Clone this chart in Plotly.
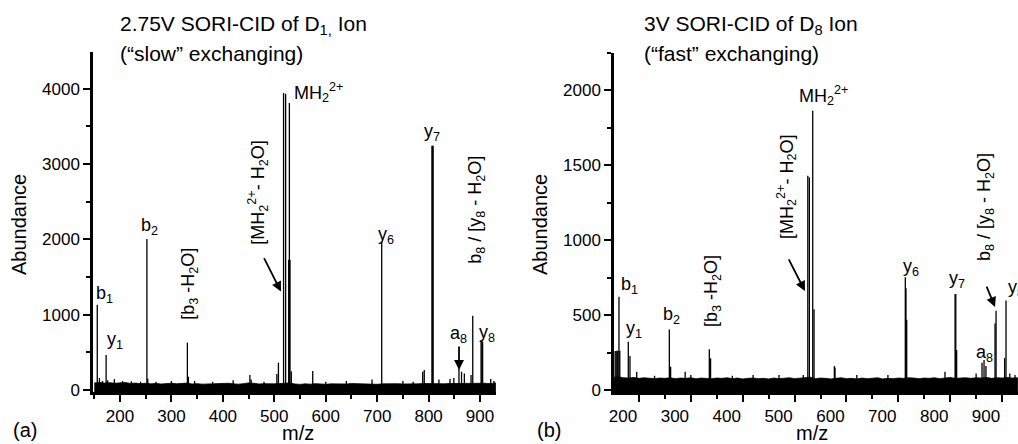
import plotly.graph_objects as go

W, H = 1018, 444
FONT = "Liberation Sans, Arial, Helvetica, sans-serif"

# ---------------- data: panel (a) D1 ion, 2.75 V ----------------
a_mz = [155.8, 160, 166, 173, 176, 189, 205, 222, 240, 252.3, 254, 270, 300,
        331, 333, 345, 380, 420, 452.5, 455, 480, 505, 508, 518, 522, 528,
        529.3, 530.5, 533, 574.7, 600, 640, 690, 708.8, 750, 770, 788.5,
        791.5, 806.5, 807.6, 808.7, 820, 841.5, 849, 859, 864, 869.5, 882.5,
        885.8, 902, 903.5, 905, 920.7, 927]
a_ab = [1130, 160, 120, 465, 130, 146, 120, 115, 110, 2003, 150, 110, 120,
        630, 177, 120, 110, 130, 200, 140, 110, 212, 363, 3940, 3930, 1727,
        3810, 1727, 250, 252, 110, 120, 140, 1965, 120, 110, 244,
        266, 3240, 3240, 3240, 140, 146, 160, 290, 244, 220, 200,
        985, 664, 664, 640, 146, 120]
noise_mz = list(range(150, 931, 10))
a_noise = [95, 100, 92, 98, 90, 95, 100, 88, 92,
           85, 90, 82, 88, 80, 85, 90, 84, 86, 92,
           80, 85, 78, 82, 86, 80, 84, 90, 82, 78,
           85, 95, 90, 80, 84, 78, 82, 86, 90, 95,
           80, 75, 82, 78, 85, 80, 76, 82, 78, 84,
           80, 86, 82, 78, 84, 80, 76, 82, 86, 80,
           84, 80, 78, 85, 82, 88, 84, 80, 85, 82,
           86, 88, 84, 90, 86, 92, 88, 90, 85, 95]

# ---------------- data: panel (b) D8 ion, 3 V ----------------
b_mz = [154, 156, 158, 159.5, 161.4, 163, 179.4, 182.6, 195.6, 230, 258.5,
        261, 289, 300, 335.6, 338, 380, 420, 470, 516.7, 525.5, 528.5, 535,
        537.5, 576.7, 578, 620, 680, 713.5, 714.8, 716.2, 790, 809.5, 810.8,
        812.5, 850, 861.4, 865.3, 869, 886.5, 888.5, 905, 907.7, 915, 925]
b_ab = [260, 260, 262, 262, 623, 262, 323, 227, 122, 95, 405,
        156, 122, 100, 272, 212, 95, 100, 100, 100, 1430, 1420, 1864,
        539, 160, 150, 100, 100, 753, 680, 470, 122, 641, 641,
        267, 110, 182, 200, 160, 445, 530, 213, 597, 110, 100]
b_noise = [85, 88, 82, 80, 84, 78, 82, 80, 76,
           80, 78, 82, 76, 80, 78, 82, 75, 80, 78,
           76, 80, 78, 82, 76, 80, 74, 78, 80, 76,
           78, 74, 80, 76, 78, 82, 76, 80, 84, 86,
           76, 80, 78, 74, 78, 82, 76, 78, 74, 80,
           76, 78, 82, 74, 78, 76, 80, 78, 82, 80,
           76, 80, 78, 82, 76, 80, 84, 78, 80, 82,
           78, 82, 80, 84, 78, 82, 80, 84, 80, 82]

x_ticks = [200, 300, 400, 500, 600, 700, 800, 900]

# ---------------- layout geometry ----------------
a_xrange = [147.5, 931]
a_yrange = [-26, 4485]
b_xrange = [151.8, 930.8]
b_yrange = [-13, 2250]
y_dom = [1 - 392 / H, 1 - 52 / H]
y_dom_b = [1 - 392 / H, 1 - 53 / H]


def stick_xy(mz, ab):
    xs, ys = [], []
    for m, a in zip(mz, ab):
        xs += [m, m, None]
        ys += [0, a, None]
    return xs, ys


def band_xy(mz, vals, floor):
    xs = list(mz) + list(reversed(mz))
    ys = list(vals) + [floor] * len(mz)
    return xs, ys


fig = go.Figure()

for mz, ab, noise, yr, xa, ya in [
    (a_mz, a_ab, a_noise, a_yrange, "x", "y"),
    (b_mz, b_ab, b_noise, b_yrange, "x2", "y2"),
]:
    bx, by = band_xy(noise_mz, noise, yr[0])
    fig.add_trace(go.Scatter(x=bx, y=by, mode="lines", fill="toself",
                             fillcolor="black", line=dict(color="black", width=0.8),
                             xaxis=xa, yaxis=ya, hoverinfo="skip", showlegend=False))
    sx, sy = stick_xy(mz, ab)
    fig.add_trace(go.Scatter(x=sx, y=sy, mode="lines",
                             line=dict(color="black", width=1.3),
                             xaxis=xa, yaxis=ya, showlegend=False))

common_x = dict(showline=True, linewidth=2.5, linecolor="black", showgrid=False,
                zeroline=False, ticks="outside", ticklen=7, tickwidth=2,
                tickcolor="black", tickvals=x_ticks, automargin=False,
                tickfont=dict(family=FONT, size=17, color="black"),
                minor=dict(ticks="outside", ticklen=4, tickwidth=1.5,
                           tickcolor="black", dtick=50, tick0=0, showgrid=False))
common_y = dict(showline=True, linewidth=2.5, linecolor="black", showgrid=False,
                zeroline=False, ticks="outside", ticklen=7, tickwidth=2,
                tickcolor="black", automargin=False,
                tickfont=dict(family=FONT, size=17, color="black"))

fig.update_layout(
    template="none",
    width=W, height=H, autosize=False,
    margin=dict(l=0, r=0, t=0, b=0),
    paper_bgcolor="white", plot_bgcolor="white",
    font=dict(family=FONT, color="black"),
    xaxis=dict(domain=[93 / W, 496 / W], range=a_xrange, anchor="y", **common_x),
    yaxis=dict(domain=y_dom, range=a_yrange, anchor="x", tickvals=[0, 1000, 2000, 3000, 4000],
               minor=dict(ticks="outside", ticklen=4, tickwidth=1.5, tickcolor="black",
                          dtick=500, tick0=0, showgrid=False), **common_y),
    xaxis2=dict(domain=[614 / W, 1.0], range=b_xrange, anchor="y2", ticklabelshift=-16, **common_x),
    yaxis2=dict(domain=y_dom_b, range=b_yrange, anchor="x2", tickvals=[0, 500, 1000, 1500, 2000],
                minor=dict(ticks="outside", ticklen=4, tickwidth=1.5, tickcolor="black",
                           dtick=250, tick0=0, showgrid=False), **common_y),
)

LF = dict(family=FONT, size=18, color="black")
ann = []


def lab(text, x, y, xr, yr, angle=0, xanchor="center"):
    ann.append(dict(text=text, x=x, y=y, xref=xr, yref=yr, showarrow=False,
                    textangle=angle, xanchor=xanchor, yanchor="middle", font=LF))


def arrow(x0, y0, x1, y1, xr, yr):
    ann.append(dict(text="", x=x1, y=y1, ax=x0, ay=y0, xref=xr, yref=yr,
                    axref=xr, ayref=yr, showarrow=True, arrowhead=2, arrowsize=1.1,
                    arrowwidth=1.8, arrowcolor="black"))


# panel (a) labels
lab("b<sub>1</sub>", 169.9, 1262, "x", "y")
lab("y<sub>1</sub>", 191.2, 651, "x", "y")
lab("b<sub>2</sub>", 257.4, 2166, "x", "y")
lab("[b<sub>3</sub> -H<sub>2</sub>O]", 336.1, 1409, "x", "y", -90)
lab("[MH<sub>2</sub><sup>2+</sup>- H<sub>2</sub>O]", 468.3, 2618, "x", "y", -90)
lab("MH<sub>2</sub><sup>2+</sup>", 534.4, 3947, "x", "y", xanchor="left")
lab("y<sub>6</sub>", 716.2, 2046, "x", "y")
lab("y<sub>7</sub>", 805.7, 3415, "x", "y")
lab("b<sub>8</sub> / [y<sub>8</sub> - H<sub>2</sub>O]", 894.2, 2392, "x", "y", -90)
lab("a<sub>8</sub>", 857.2, 731, "x", "y")
lab("y<sub>8</sub>", 913.6, 744, "x", "y")
arrow(478.6, 1771, 513, 1306, "x", "y")
arrow(859.1, 598, 859.1, 266, "x", "y")

# panel (b) labels
lab("b<sub>1</sub>", 182.6, 695, "x2", "y2")
lab("y<sub>1</sub>", 191.3, 401, "x2", "y2")
lab("b<sub>2</sub>", 262.7, 501, "x2", "y2")
lab("[b<sub>3</sub> -H<sub>2</sub>O]", 340.8, 661, "x2", "y2", -90)
lab("[MH<sub>2</sub><sup>2+</sup>- H<sub>2</sub>O]", 485.4, 1356, "x2", "y2", -90)
lab("MH<sub>2</sub><sup>2+</sup>", 504.7, 1964, "x2", "y2", xanchor="left")
lab("y<sub>6</sub>", 724.5, 815, "x2", "y2")
lab("y<sub>7</sub>", 813.2, 735, "x2", "y2")
lab("b<sub>8</sub> / [y<sub>8</sub> - H<sub>2</sub>O]", 867.2, 1222, "x2", "y2", -90)
lab("a<sub>8</sub>", 865.3, 247, "x2", "y2")
lab("y<sub>8</sub>", 907.7, 681, "x2", "y2", xanchor="left")
arrow(487.3, 882, 520, 661, "x2", "y2")
arrow(869.1, 701, 886.5, 554, "x2", "y2")

# titles and axis labels (paper coordinates)
TF = dict(family=FONT, size=20, color="black")
TT = dict(family=FONT, size=21, color="black")


def ptext(text, xpx, ypx, angle=0, xanchor="left", font=TF):
    ann.append(dict(text=text, x=xpx / W, y=1 - ypx / H, xref="paper", yref="paper",
                    showarrow=False, textangle=angle, xanchor=xanchor,
                    yanchor="middle", font=font))


ptext("2.75V SORI-CID of D<sub>1,</sub> Ion", 118, 25, font=TT)
ptext("(\u201cslow\u201d exchanging)", 118, 53, font=TT)
ptext("3V SORI-CID of D<sub>8</sub> Ion", 642, 25, font=TT)
ptext("(\u201cfast\u201d exchanging)", 642, 53, font=TT)
ptext("Abundance", 19, 225, -90, "center")
ptext("Abundance", 540, 225, -90, "center")
ptext("m/z", 298, 433, 0, "center")
ptext("m/z", 812, 433, 0, "center")
ptext("(a)", 25, 430, 0, "center")
ptext("(b)", 549, 430, 0, "center")

fig.update_layout(annotations=ann)
fig.write_html("out.html", config={"displayModeBar": False},
               post_script="document.body.style.margin='0px';document.body.style.overflow='hidden';")
